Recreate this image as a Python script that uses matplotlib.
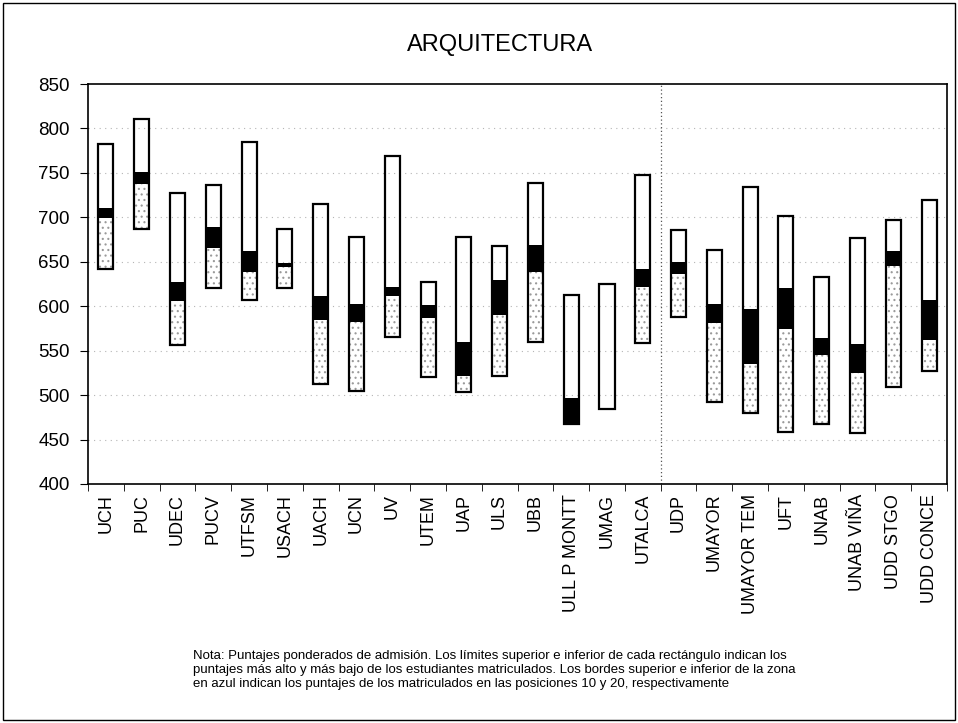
import matplotlib

matplotlib.use("Agg")
import matplotlib.pyplot as plt
from matplotlib.patches import Rectangle

plt.rcParams["font.family"] = ["Liberation Sans", "DejaVu Sans"]
plt.rcParams["hatch.linewidth"] = 0.8

# Puntajes por universidad: maximo, posicion 10, posicion 20, minimo
universidades = [
    "UCH", "PUC", "UDEC", "PUCV", "UTFSM", "USACH", "UACH", "UCN", "UV", "UTEM",
    "UAP", "ULS", "UBB", "ULL P MONTT", "UMAG", "UTALCA", "UDP", "UMAYOR",
    "UMAYOR TEM", "UFT", "UNAB", "UNAB VIÑA", "UDD STGO", "UDD CONCE",
]
maximo = [783, 811, 727, 736, 785, 687, 715, 678, 769, 627, 678, 668, 739, 613, 625, 748,
          686, 663, 734, 701, 633, 677, 697, 719]
pos_10 = [710, 751, 627, 689, 662, 649, 611, 603, 622, 601, 560, 629, 669, 497, None, 642,
          650, 602, 597, 620, 564, 557, 662, 607]
pos_20 = [699, 738, 606, 665, 638, 644, 585, 582, 612, 587, 522, 590, 638, 467, None, 622,
          636, 581, 535, 574, 545, 525, 645, 562]
minimo = [642, 687, 556, 621, 607, 621, 512, 505, 565, 520, 504, 521, 560, 467, 484, 559,
          588, 492, 480, 458, 467, 457, 509, 527]

TITULO = "ARQUITECTURA"
NOTA = (
    "Nota: Puntajes ponderados de admisión. Los límites superior e inferior de cada rectángulo indican los\n"
    "puntajes más alto y más bajo de los estudiantes matriculados. Los bordes superior e inferior de la zona\n"
    "en azul indican los puntajes de los matriculados en las posiciones 10 y 20, respectivamente"
)

fig = plt.figure(figsize=(9.58, 7.23), dpi=100)
ax = fig.add_axes([0.0919, 0.3306, 0.8966, 0.5532])

n = len(universidades)
ancho = 0.42
for i in range(n):
    x0 = i - ancho / 2
    if pos_20[i] is not None:
        # zona punteada bajo la banda negra
        ax.add_patch(Rectangle((x0, minimo[i]), ancho, pos_20[i] - minimo[i],
                               facecolor="white", edgecolor="#9a9a9a", hatch="...",
                               linewidth=0, zorder=2))
        ax.add_patch(Rectangle((x0, pos_20[i]), ancho, pos_10[i] - pos_20[i],
                               facecolor="black", edgecolor="black", linewidth=0, zorder=3))
    ax.add_patch(Rectangle((x0, minimo[i]), ancho, maximo[i] - minimo[i],
                           fill=False, edgecolor="black", linewidth=1.6, zorder=4))

ax.set_xlim(-0.5, n - 0.5)
ax.set_ylim(400, 850)
ax.set_yticks(range(400, 851, 50))
ax.tick_params(axis="y", labelsize=13.5, length=6, direction="out", pad=7)

ax.set_xticks(range(n))
ax.set_xticklabels(universidades, rotation=90, fontsize=13)
ax.set_xticks([i + 0.5 for i in range(-1, n)], minor=True)
ax.tick_params(axis="x", which="major", length=0, pad=7)
ax.tick_params(axis="x", which="minor", length=5, direction="out")

for y in range(450, 850, 50):
    ax.axhline(y, color="#b5b5b5", linestyle=(0, (1, 4)), linewidth=0.8, zorder=1)
ax.axvline(15.5, color="#555555", linestyle=(0, (1, 2)), linewidth=0.9, zorder=1)

for spine in ax.spines.values():
    spine.set_linewidth(1.2)

fig.text(0.522, 0.938, TITULO, ha="center", va="center", fontsize=17)
fig.text(0.2015, 0.101, NOTA, ha="left", va="top", fontsize=9.5, linespacing=1.22)

fig.patches.append(Rectangle((0.003, 0.004), 0.994, 0.992, transform=fig.transFigure,
                             fill=False, edgecolor="black", linewidth=1.0))

fig.savefig("out.png", dpi=100)
